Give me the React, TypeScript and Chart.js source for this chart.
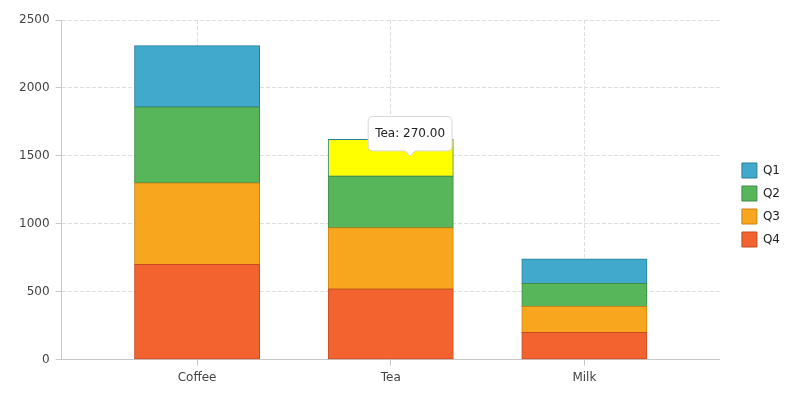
import { useEffect, useRef } from 'react';
import { Chart, registerables, Tooltip } from 'chart.js';

Chart.register(...registerables);
Chart.defaults.font.family = '"DejaVu Sans", Verdana, sans-serif';
Chart.defaults.font.size = 12;

// sales per drink and quarter
const categories = ['Coffee', 'Tea', 'Milk'];
const q1 = [450, 270, 180];
const q2 = [560, 380, 170];
const q3 = [600, 450, 190];
const q4 = [700, 520, 200];

const yMax = 2500;
const yStep = 500;

// hovered bar (Q1 of Tea) shown with its tooltip
const hoverCategory = 1;

// eslint-disable-next-line @typescript-eslint/no-explicit-any
(Tooltip.positioners as any).cursor = function (_items: unknown, eventPosition: { x: number; y: number }) {
  return eventPosition;
};

export default function App() {
  const canvasRef = useRef<HTMLCanvasElement | null>(null);
  const chartRef = useRef<Chart | null>(null);

  useEffect(() => {
    if (!canvasRef.current) return;
    if (chartRef.current) chartRef.current.destroy();

    const toPoints = (values: number[]) => values.map((y, i) => ({ x: i, y }));

    // first dataset sits at the bottom of the stack
    const datasets = [
      { label: 'Q4', data: toPoints(q4), backgroundColor: '#f2632f', borderColor: '#c44b22', hoverBackgroundColor: '#f2632f', hoverBorderColor: '#c44b22' },
      { label: 'Q3', data: toPoints(q3), backgroundColor: '#f9a61f', borderColor: '#cc8214', hoverBackgroundColor: '#f9a61f', hoverBorderColor: '#cc8214' },
      { label: 'Q2', data: toPoints(q2), backgroundColor: '#58b65a', borderColor: '#3e8c45', hoverBackgroundColor: '#58b65a', hoverBorderColor: '#3e8c45' },
      { label: 'Q1', data: toPoints(q1), backgroundColor: '#41a9cc', borderColor: '#2b7f9c', hoverBackgroundColor: '#ffff00', hoverBorderColor: '#2b7f9c' },
    ].map((d) => ({
      ...d,
      borderWidth: 1,
      hoverBorderWidth: 1,
      borderSkipped: false as const,
      inflateAmount: 0.5,
      categoryPercentage: 0.645,
      barPercentage: 1,
    }));

    chartRef.current = new Chart(canvasRef.current, {
      type: 'bar',
      data: { datasets },
      options: {
        animation: false,
        responsive: true,
        maintainAspectRatio: false,
        events: [],
        layout: { padding: { left: 13, top: 20, right: 10, bottom: 10 } },
        scales: {
          x: {
            type: 'linear',
            stacked: true,
            offset: false,
            min: -0.7,
            max: categories.length - 0.3,
            afterBuildTicks: (scale) => {
              scale.ticks = categories.map((_, i) => ({ value: i }));
            },
            grid: { color: '#dedede', offset: false, tickLength: 6, tickColor: '#c8c8c8' },
            border: { color: '#c8c8c8', dash: [4, 2] },
            ticks: {
              color: '#444',
              padding: 5,
              autoSkip: false,
              maxRotation: 0,
              callback: (v) => categories[Number(v)] ?? '',
            },
          },
          y: {
            stacked: true,
            min: 0,
            max: yMax,
            grid: { color: '#dedede', tickLength: 6, tickColor: '#c8c8c8' },
            border: { color: '#c8c8c8', dash: [4, 2] },
            ticks: { stepSize: yStep, color: '#444', padding: 6, callback: (v) => String(v) },
          },
          spacer: {
            position: 'right',
            display: true,
            grid: { display: false },
            border: { display: false },
            ticks: { display: false },
            afterFit: (scale) => {
              scale.width = 14;
            },
          },
        },
        plugins: {
          legend: {
            position: 'right',
            reverse: true,
            labels: { boxWidth: 15, boxHeight: 15, padding: 8, color: '#222', font: { size: 12 } },
          },
          tooltip: {
            enabled: true,
            position: 'cursor' as never,
            yAlign: 'bottom',
            backgroundColor: '#ffffff',
            bodyColor: '#222',
            borderColor: '#d8d8d8',
            borderWidth: 1,
            cornerRadius: 5,
            caretSize: 5,
            caretPadding: 2,
            padding: { x: 7, y: 10 },
            displayColors: false,
            bodyFont: { size: 12 },
            callbacks: {
              title: () => [],
              label: (ctx) => `${categories[ctx.dataIndex]}: ${Number(ctx.parsed.y).toFixed(2)}`,
            },
          },
        },
      },
    });

    const chart = chartRef.current;
    const q1Index = datasets.length - 1;
    const below = q2[hoverCategory] + q3[hoverCategory] + q4[hoverCategory];
    const pos = {
      x: chart.scales.x.getPixelForValue(hoverCategory + 0.1),
      y: chart.scales.y.getPixelForValue(below + q1[hoverCategory] / 2),
    };
    const active = [{ datasetIndex: q1Index, index: hoverCategory }];
    chart.setActiveElements(active);
    chart.tooltip?.setActiveElements(active, pos);
    chart.update();

    return () => {
      chart.destroy();
      chartRef.current = null;
    };
  }, []);

  return (
    <div style={{ position: 'fixed', left: 0, top: 0, width: 800, height: 400, background: '#fff' }}>
      <canvas ref={canvasRef} />
    </div>
  );
}
